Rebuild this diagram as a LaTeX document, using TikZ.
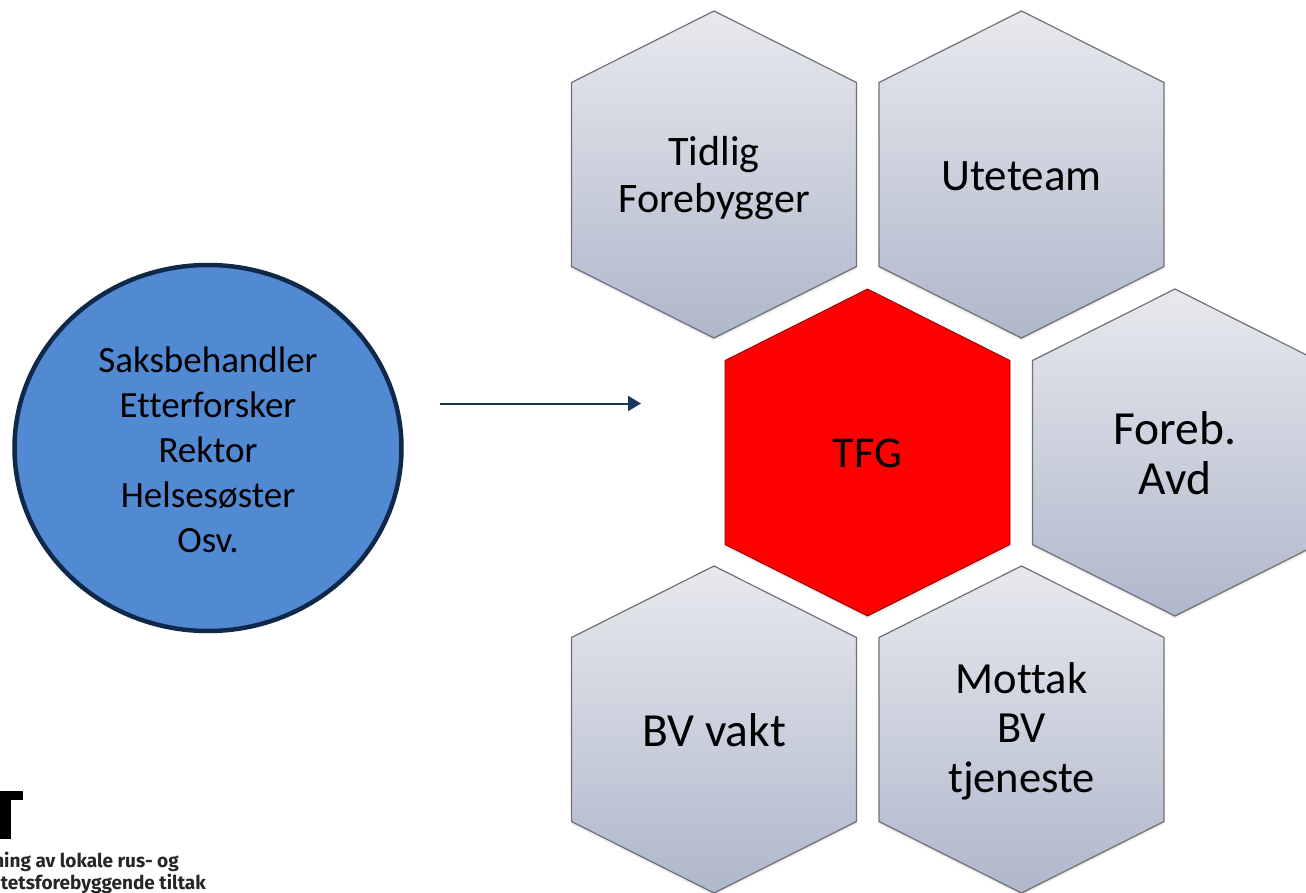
\documentclass[tikz,border=0pt]{standalone}
\usepackage{fontspec}
\setmainfont[Ligatures=NoCommon,Contextuals=NoAlternate]{Carlito}
\newfontfamily\logofont{Fira Sans}
\usetikzlibrary{arrows.meta}
\definecolor{hextop}{HTML}{E8E9EE}
\definecolor{hexbot}{HTML}{AFB7CB}
\definecolor{hexline}{HTML}{707076}
\definecolor{circfill}{HTML}{5289D3}
\definecolor{navy}{HTML}{17375E}
\definecolor{circline}{HTML}{10294B}
\newcommand{\hexpath}[2]{(#1-142.5,#2-92) -- (#1,#2-163.5) -- (#1+142.5,#2-92) -- (#1+142.5,#2+92) -- (#1,#2+163.5) -- (#1-142.5,#2+92) -- cycle}
\newcommand{\hexshadow}[2]{%
  \fill[black,opacity=0.05] \hexpath{#1}{#2+3};
  \fill[black,opacity=0.07] \hexpath{#1}{#2+1.5};}
\newcommand{\greyhex}[2]{%
  \hexshadow{#1}{#2}%
  \draw[hexline,line width=1.2pt,top color=hextop,bottom color=hexbot] \hexpath{#1}{#2};}
\tikzset{
  hextext/.style={align=center,text=black,inner sep=0pt},
  logotext/.style={font=\logofont\bfseries\fontsize{19}{19}\selectfont,text=black!85,anchor=base east,inner sep=0pt},
  flow/.style={navy,line width=2pt,-{Triangle[length=13pt,width=15pt]}}
}
\begin{document}
\begin{tikzpicture}[x=1pt,y=-1pt]
\useasboundingbox (0,0) rectangle (1306,893);
\begin{scope}
\clip (0,0) rectangle (1306,893);
\greyhex{714}{174.5}
\greyhex{1021.5}{174.5}
\greyhex{1175}{452.5}
\greyhex{714}{729.5}
\greyhex{1021.5}{729.5}
\hexshadow{867.5}{452.5}
\draw[black!45!red,line width=0.8pt,fill=red] \hexpath{867.5}{452.5};
\node[hextext,font=\fontsize{42}{47}\selectfont] (tidlig) at (714,178) {Tidlig\\Forebygger};
\node[hextext,font=\fontsize{45}{50}\selectfont] (ute) at (1021.5,176) {Uteteam};
\node[hextext,font=\fontsize{44}{50}\selectfont] (tfg) at (867.5,453) {TFG};
\node[hextext,font=\fontsize{47.5}{50}\selectfont] (foreb) at (1175,453) {Foreb.\\Avd};
\node[hextext,font=\fontsize{47.5}{50}\selectfont] (bv) at (714,730) {BV vakt};
\node[hextext,font=\fontsize{44.5}{49.5}\selectfont] (mottak) at (1021.5,731) {Mottak\\BV\\tjeneste};
\draw[circline,line width=4.5pt,fill=circfill] (208,448) ellipse [x radius=193.5,y radius=183];
\node[font=\fontsize{37}{45}\selectfont,align=center,inner sep=0pt] (who) at (208,450) {Saksbehandler\\Etterforsker\\Rektor\\Helsesøster\\Osv.};
\coordinate (arrowstart) at (440,403.5);
\coordinate (arrowend) at (641,403.5);
\draw[flow] (arrowstart) -- (arrowend);
\fill[black] (0,790.5) rectangle (22.5,800);
\fill[black] (0,790.5) rectangle (10.5,839);
\node[logotext] (logoa) at (179,867) {ning av lokale rus- og};
\node[logotext] (logob) at (206,889) {itetsforebyggende tiltak};
\end{scope}
\end{tikzpicture}
\end{document}
